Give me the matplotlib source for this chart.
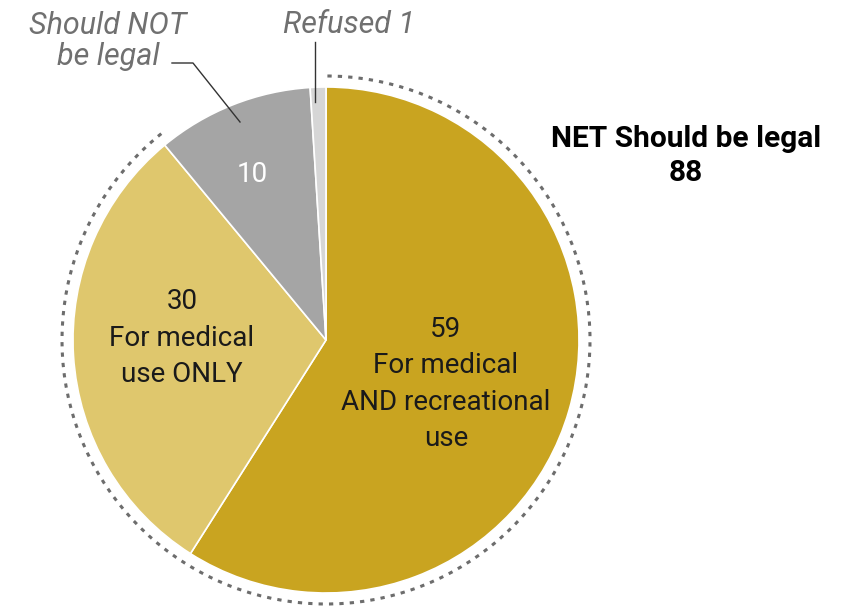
import matplotlib
matplotlib.use("Agg")
import matplotlib.pyplot as plt
from matplotlib.patches import Arc

plt.rcParams['font.family'] = ['Roboto', 'DejaVu Sans']

# shares, clockwise from the top
labels = ["For medical AND recreational use", "For medical use ONLY",
          "Should NOT be legal", "Refused"]
values = [59, 30, 10, 1]
colors = ["#C9A420", "#DFC76D", "#A5A5A5", "#D6D6D6"]
net_legal = 88

fig = plt.figure(figsize=(8.46, 6.07), dpi=100)
ax = fig.add_axes([0, 0, 1, 1])

H = 607  # flip pixel rows to data y
cx, cy, r = 326, H - 340, 253
ax.pie(values, colors=colors, startangle=90, counterclock=False,
       center=(cx, cy), radius=r, frame=True,
       wedgeprops=dict(edgecolor='white', linewidth=1.2))
ax.set_xlim(0, 846)
ax.set_ylim(0, H)
ax.set_aspect('equal')
ax.axis('off')

# dotted ring around the "should be legal" part
end_ang = 90 - (values[0] + values[1]) / sum(values) * 360 + 360
ax.add_patch(Arc((cx, cy), 2 * 264, 2 * 264, theta1=end_ang - 1, theta2=90.5,
                 color='#6d6d6d', lw=2.2, linestyle=(0, (1.4, 2.0))))

# labels inside slices
ax.text(446, H - 384, f"{values[0]}\nFor medical\nAND recreational\nuse",
        ha='center', va='center', fontsize=20, linespacing=1.45, color='#1a1a1a')
ax.text(182, H - 338, f"{values[1]}\nFor medical\nuse ONLY",
        ha='center', va='center', fontsize=20, linespacing=1.45, color='#1a1a1a')
ax.text(252, H - 175, f"{values[2]}", ha='center', va='center',
        fontsize=20, color='white')

# outside labels
ax.text(108, H - 41, "Should NOT\nbe legal", ha='center', va='center',
        fontsize=22, style='italic', color='#707070', linespacing=1.1)
ax.plot([172, 193, 240], [H - 63, H - 63, H - 122], color='#333333', lw=1)
ax.text(349, H - 33, f"Refused {values[3]}", ha='center', va='baseline',
        fontsize=22, style='italic', color='#707070')
ax.plot([315, 315], [H - 42, H - 102], color='#333333', lw=1)

ax.text(686, H - 156, f"NET Should be legal\n{net_legal}", ha='center',
        va='center', fontsize=21.5, fontweight='bold', color='black',
        linespacing=1.3)

fig.savefig("out.png", dpi=100)
